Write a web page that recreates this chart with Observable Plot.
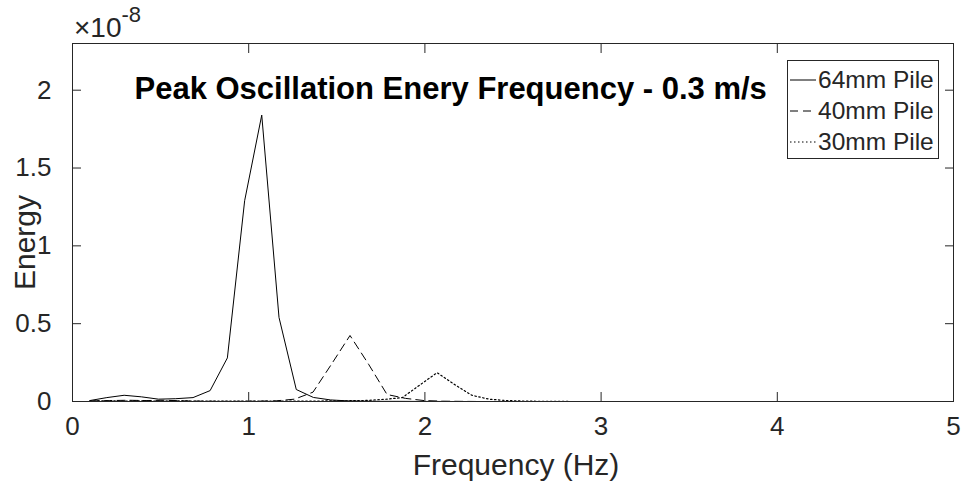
<!DOCTYPE html>
<html><head><meta charset="utf-8">
<script src="https://cdn.jsdelivr.net/npm/d3@7"></script>
<script src="https://cdn.jsdelivr.net/npm/@observablehq/plot@0.6"></script>
<style>
body{margin:0;background:#fff;}
#wrap{position:relative;width:964px;height:486px;font-family:"Liberation Sans",Arial,Helvetica,sans-serif;color:#262626;}
#exp{position:absolute;left:74px;top:14px;font-size:28px;line-height:1;}
#exp sup{font-size:22px;vertical-align:0.68em;line-height:0;}
#legend{position:absolute;left:787px;top:60px;width:152px;height:99px;border:1px solid #262626;box-sizing:border-box;background:#fff;padding-top:3px;}
.row{display:flex;align-items:center;height:31px;font-size:24.5px;white-space:nowrap;}
.row svg{margin-left:2px;margin-right:2px;}
</style></head><body><div id="wrap"></div>
<script>
const xTicks = [0, 1, 2, 3, 4, 5];
const yTicks = [0, 0.5, 1, 1.5, 2];
const yTickLabels = ["0", "0.5", "1", "1.5", "2"];
const titleText = "Peak Oscillation Enery Frequency - 0.3 m/s";
const xLabel = "Frequency (Hz)";
const yLabel = "Energy";
const seriesNames = ["64mm Pile", "40mm Pile", "30mm Pile"];
const seriesDash = ["none", "8,5", "1.5,2.5"];

// 64mm pile (Energy in units of 1e-8)
const freq64 = [0.098,0.195,0.293,0.391,0.488,0.586,0.684,0.781,0.879,0.977,1.074,1.172,1.270,1.367,1.465,1.563,1.660,1.758,1.855,1.953,2.051,2.148,2.246,2.344,2.441,2.539,2.637,2.734,2.832,2.930,5.0];
const energy64 = [0.006,0.025,0.040,0.030,0.015,0.018,0.025,0.070,0.280,1.290,1.840,0.540,0.077,0.026,0.010,0.004,0.002,0.001,0.001,0.0005,0.0005,0,0,0,0,0,0,0,0,0,0];

// 40mm pile
const freq40 = [0.105,0.210,0.315,0.420,0.525,0.630,0.735,0.840,0.945,1.050,1.155,1.260,1.365,1.470,1.575,1.680,1.785,1.890,1.995,2.100,2.205,2.310,2.415,2.520,2.625,2.730,2.835,5.0];
const energy40 = [0.004,0.006,0.008,0.006,0.008,0.004,0.002,0.001,0.001,0.002,0.004,0.015,0.060,0.240,0.424,0.240,0.045,0.020,0.006,0.002,0.001,0,0,0,0,0,0,0];

// 30mm pile
const freq30 = [0.098,0.197,0.296,0.394,0.493,0.591,0.690,0.788,0.887,0.985,1.084,1.182,1.281,1.379,1.478,1.576,1.675,1.773,1.872,1.970,2.069,2.167,2.266,2.364,2.463,2.561,2.660,2.758,2.857,2.955,5.0];
const energy30 = [0.003,0.004,0.003,0.004,0.003,0.004,0.003,0.002,0.002,0.003,0.002,0.002,0.003,0.003,0.004,0.005,0.007,0.014,0.025,0.105,0.185,0.110,0.040,0.015,0.006,0.003,0.001,0.0005,0,0,0];

const toRows = (fs, es) => fs.map((f, i) => ({f, e: es[i]}));
const d64 = toRows(freq64, energy64);
const d40 = toRows(freq40, energy40);
const d30 = toRows(freq30, energy30);

const ink = "#262626";
const chart = Plot.plot({
  width: 964,
  height: 486,
  marginLeft: 72,
  marginRight: 11,
  marginTop: 43,
  marginBottom: 85,
  style: {fontFamily: '"Liberation Sans", Arial, Helvetica, sans-serif', fontSize: "24px", color: ink, background: "#fff", overflow: "visible"},
  x: {domain: [0, 5]},
  y: {domain: [0, 2.3]},
  marks: [
    Plot.line(d64, {x: "f", y: "e", stroke: "#000", strokeWidth: 1}),
    Plot.line(d40, {x: "f", y: "e", stroke: "#000", strokeWidth: 1, strokeDasharray: seriesDash[1]}),
    Plot.line(d30, {x: "f", y: "e", stroke: "#000", strokeWidth: 1.2, strokeDasharray: seriesDash[2]}),
    Plot.frame({stroke: ink, strokeWidth: 1}),
    // inward ticks
    Plot.axisX(xTicks, {anchor: "bottom", tickSize: 9, dy: -9, tickFormat: () => "", label: null, stroke: ink}),
    Plot.axisX(xTicks, {anchor: "top", tickSize: 9, dy: 9, tickFormat: () => "", label: null, stroke: ink}),
    Plot.axisY(yTicks, {anchor: "left", tickSize: 9, dx: 9, tickFormat: () => "", label: null, stroke: ink}),
    Plot.axisY(yTicks, {anchor: "right", tickSize: 9, dx: -9, tickFormat: () => "", label: null, stroke: ink}),
    // tick labels
    Plot.axisX(xTicks, {anchor: "bottom", tickSize: 0, tickPadding: 15, fontSize: 26, tickFormat: d => String(d), label: null, fill: ink}),
    Plot.axisY(yTicks, {anchor: "left", tickSize: 0, tickPadding: 21, fontSize: 26, tickFormat: d => yTickLabels[yTicks.indexOf(d)], label: null, fill: ink}),
    // axis labels
    Plot.text([xLabel], {frameAnchor: "bottom", dy: 73, dx: 3, fontSize: 30, fill: ink, text: d => d}),
    Plot.text([yLabel], {frameAnchor: "left", textAnchor: "middle", dx: -47, dy: 20, rotate: -90, fontSize: 30, fill: ink, text: d => d}),
    // title
    Plot.text([titleText], {frameAnchor: "top-left", textAnchor: "start", dx: 62, dy: 33, fontSize: 31, fontWeight: "bold", fill: "#000", text: d => d})
  ]
});

const wrap = document.getElementById("wrap");
wrap.appendChild(chart);

const exp = document.createElement("div");
exp.id = "exp";
exp.innerHTML = "×10<sup>-8</sup>";
wrap.appendChild(exp);

const legend = document.createElement("div");
legend.id = "legend";
seriesNames.forEach((name, i) => {
  const row = document.createElement("div");
  row.className = "row";
  const s = d3.create("svg").attr("width", 26).attr("height", 10);
  s.append("line").attr("x1", 0).attr("x2", 26).attr("y1", 5).attr("y2", 5)
    .attr("stroke", "#000").attr("stroke-width", 1)
    .attr("stroke-dasharray", seriesDash[i]);
  row.appendChild(s.node());
  const t = document.createElement("span");
  t.textContent = name;
  row.appendChild(t);
  legend.appendChild(row);
});
wrap.appendChild(legend);
</script>
</body></html>
